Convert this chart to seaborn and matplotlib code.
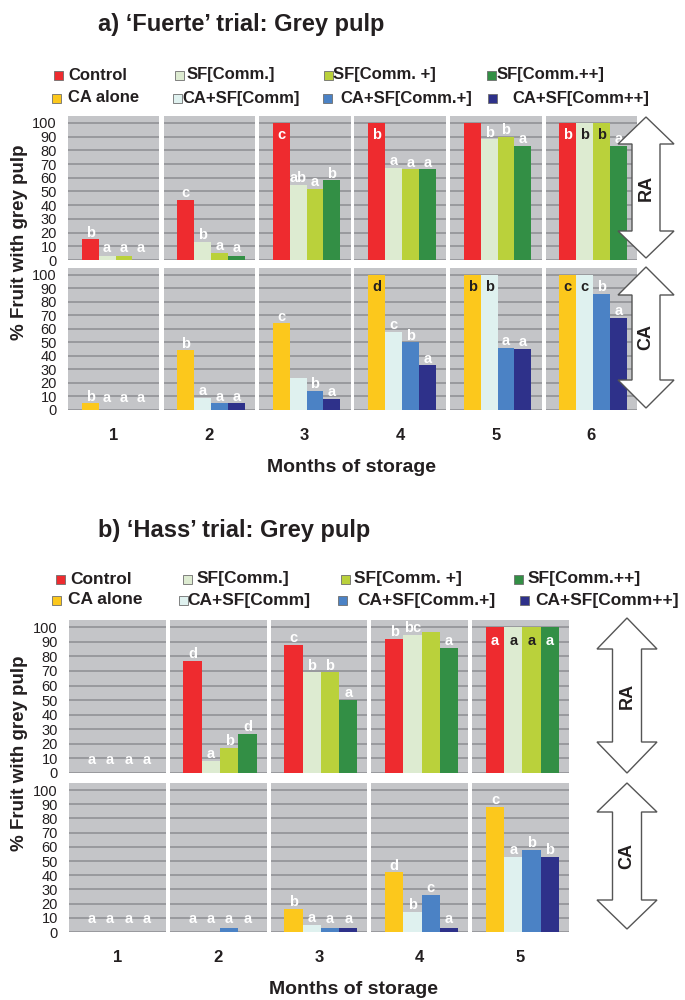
import matplotlib
matplotlib.use("Agg")
import matplotlib.pyplot as plt
from matplotlib.patches import Polygon, Rectangle
from matplotlib.colors import to_rgb
import pandas as pd
import seaborn as sns

sns.set_theme(style="white")
plt.rcParams["font.family"] = ["Liberation Sans", "DejaVu Sans"]

# ---------------------------------------------------------------- data
RA_TREATMENTS = ["Control", "SF[Comm.]", "SF[Comm. +]", "SF[Comm.++]"]
CA_TREATMENTS = ["CA alone", "CA+SF[Comm]", "CA+SF[Comm.+]", "CA+SF[Comm++]"]
RA_COLORS = ["#EE2B2F", "#DDEBD1", "#BAD13B", "#338F45"]
CA_COLORS = ["#FCC81C", "#DFF1EF", "#4B82C5", "#2E318A"]

# 'Fuerte' trial, % fruit with grey pulp per month of storage
fuerte_months = [1, 2, 3, 4, 5, 6]
fuerte_ra_control = [15, 44, 100, 100, 100, 100]
fuerte_ra_sf = [3, 13, 55, 67, 88, 100]
fuerte_ra_sf_plus = [3, 5, 52, 66, 90, 100]
fuerte_ra_sf_plusplus = [0, 3, 58, 66, 83, 83]
fuerte_ra_letters = [["b", "a", "a", "a"], ["c", "b", "a", "a"], ["c", "ab", "a", "b"],
                     ["b", "a", "a", "a"], ["", "b", "b", "a"], ["b", "b", "b", "a"]]

fuerte_ca_alone = [5, 44, 64, 100, 100, 100]
fuerte_ca_sf = [0, 9, 24, 58, 100, 100]
fuerte_ca_sf_plus = [0, 5, 14, 50, 46, 86]
fuerte_ca_sf_plusplus = [0, 5, 8, 33, 45, 68]
fuerte_ca_letters = [["b", "a", "a", "a"], ["b", "a", "a", "a"], ["c", "", "b", "a"],
                     ["d", "c", "b", "a"], ["b", "b", "a", "a"], ["c", "c", "b", "a"]]

# 'Hass' trial
hass_months = [1, 2, 3, 4, 5]
hass_ra_control = [0, 77, 88, 92, 100]
hass_ra_sf = [0, 8, 69, 95, 100]
hass_ra_sf_plus = [0, 17, 69, 97, 100]
hass_ra_sf_plusplus = [0, 27, 50, 86, 100]
hass_ra_letters = [["a", "a", "a", "a"], ["d", "a", "b", "d"], ["c", "b", "b", "a"],
                   ["b", "bc", "", "a"], ["a", "a", "a", "a"]]

hass_ca_alone = [0, 0, 16, 42, 88]
hass_ca_sf = [0, 0, 5, 14, 53]
hass_ca_sf_plus = [0, 3, 3, 26, 58]
hass_ca_sf_plusplus = [0, 0, 3, 3, 53]
hass_ca_letters = [["a", "a", "a", "a"], ["a", "a", "a", "a"], ["b", "a", "a", "a"],
                   ["d", "b", "c", "a"], ["c", "a", "b", "b"]]

Y_TICKS = list(range(0, 101, 10))


def long_table(months, series, treatments):
    rows = []
    for name, vals in zip(treatments, series):
        for m, v in zip(months, vals):
            rows.append({"month": m, "treatment": name, "value": v})
    return pd.DataFrame(rows)


# ---------------------------------------------------------------- layout
W, H = 685, 1000
BG = "#C4C5C8"
GRID = "#95969A"
DARK = "#231F20"

fig = plt.figure(figsize=(W / 100, H / 100), dpi=100)
fig.patch.set_facecolor("white")


def px_axes(x0, y0, x1, y1, **kw):
    return fig.add_axes([x0 / W, 1 - y1 / H, (x1 - x0) / W, (y1 - y0) / H], **kw)


def is_light(color):
    r, g, b = to_rgb(color)
    return 0.299 * r + 0.587 * g + 0.114 * b > 0.6


def draw_panel(df, months, treatments, colors, letters, x0, x1, y0, y1, xlim, gap=4):
    n = len(months)
    fw = (x1 - x0 - gap * (n - 1)) / n
    palette = dict(zip(treatments, colors))
    axes = []
    for k, m in enumerate(months):
        left = x0 + k * (fw + gap)
        ax = px_axes(left, y0, left + fw, y1)
        sub = df[df["month"] == m]
        sns.barplot(data=sub, x="treatment", y="value", hue="treatment",
                    order=treatments, hue_order=treatments, palette=palette,
                    saturation=1, width=1.0, errorbar=None, legend=False,
                    linewidth=0, ax=ax, zorder=2)
        ax.set_facecolor(BG)
        ax.set_ylim(0, 105)
        ax.set_xlim(*xlim)
        ax.set_yticks(Y_TICKS)
        ax.yaxis.grid(True, color=GRID, linewidth=1.3, zorder=0)
        ax.set_axisbelow(True)
        ax.set_xticks([])
        ax.set_xlabel("")
        ax.set_ylabel("")
        for s in ax.spines.values():
            s.set_visible(False)
        ax.tick_params(axis="y", length=0, pad=8, labelsize=10.5, labelcolor=DARK)
        if k > 0:
            ax.tick_params(axis="y", labelleft=False)
        vals = sub.set_index("treatment").loc[treatments, "value"].tolist()
        for i, (v, lab) in enumerate(zip(vals, letters[k])):
            if not lab:
                continue
            if v >= 97:
                y = 88
                col = DARK if is_light(colors[i]) else "white"
            else:
                y = max(v, 4) + 2
                col = "white"
            ax.text(i, y, lab, ha="center", va="baseline", color=col,
                    fontsize=10.5, fontweight="bold", zorder=3)
        axes.append((ax, left, fw))
    return axes


def draw_trial(months, ra_series, ra_letters, ca_series, ca_letters, box):
    df_ra = long_table(months, ra_series, RA_TREATMENTS)
    df_ca = long_table(months, ca_series, CA_TREATMENTS)
    draw_panel(df_ra, months, RA_TREATMENTS, RA_COLORS, ra_letters,
               box["x0"], box["x1"], *box["ra"], box["xlim"])
    cols = draw_panel(df_ca, months, CA_TREATMENTS, CA_COLORS, ca_letters,
                      box["x0"], box["x1"], *box["ca"], box["xlim"])
    return cols


# overlay for titles, legends, arrows and axis captions (pixel coordinates)
over = fig.add_axes([0, 0, 1, 1], zorder=10)
over.set_xlim(0, W)
over.set_ylim(H, 0)
over.axis("off")


def legend(rows, fontsize, sq=9):
    for y, entries in rows:
        for (sx, tx), name, color in entries:
            over.add_patch(Rectangle((sx, y - sq / 2), sq, sq, facecolor=color,
                                     edgecolor="#6E6E6E", linewidth=0.6))
            over.text(tx, y, name, ha="left", va="center", fontsize=fontsize,
                      fontweight="bold", color=DARK)


def double_arrow(cx, top, bottom, head_half, shaft_half, head_len, label):
    pts = [(cx, top), (cx + head_half, top + head_len), (cx + shaft_half, top + head_len),
           (cx + shaft_half, bottom - head_len), (cx + head_half, bottom - head_len),
           (cx, bottom), (cx - head_half, bottom - head_len), (cx - shaft_half, bottom - head_len),
           (cx - shaft_half, top + head_len), (cx - head_half, top + head_len)]
    over.add_patch(Polygon(pts, closed=True, facecolor="white", edgecolor="#555555",
                           linewidth=1.0, joinstyle="miter"))
    over.text(cx, (top + bottom) / 2, label, rotation=90, ha="center", va="center",
              fontsize=13, fontweight="bold", color=DARK)


def captions(title, title_y, month_cols, month_y, xlabel_xy, ylabel_xy):
    over.text(98, title_y, title, ha="left", va="center", fontsize=17,
              fontweight="bold", color=DARK)
    for (ax, left, fw), m in month_cols:
        over.text(left + fw / 2, month_y, str(m), ha="center", va="center",
                  fontsize=12, fontweight="bold", color=DARK)
    over.text(*xlabel_xy, "Months of storage", ha="center", va="center",
              fontsize=14, fontweight="bold", color=DARK)
    over.text(*ylabel_xy, "% Fruit with grey pulp", rotation=90, ha="center",
              va="center", fontsize=13.5, fontweight="bold", color=DARK)


# ---------------------------------------------------------------- a) Fuerte
top_cols = draw_trial(
    fuerte_months,
    [fuerte_ra_control, fuerte_ra_sf, fuerte_ra_sf_plus, fuerte_ra_sf_plusplus],
    fuerte_ra_letters,
    [fuerte_ca_alone, fuerte_ca_sf, fuerte_ca_sf_plus, fuerte_ca_sf_plusplus],
    fuerte_ca_letters,
    {"x0": 68, "x1": 637, "ra": (116, 260), "ca": (268, 410), "xlim": (-1.32, 4.1)},
)
captions("a) \u2018Fuerte\u2019 trial: Grey pulp", 24, zip(top_cols, fuerte_months), 435,
         (352, 467), (20, 242))
legend([(75, list(zip([(54, 68), (175, 187), (324, 333), (487, 497)], RA_TREATMENTS, RA_COLORS))),
        (98, list(zip([(52, 68), (173, 182), (323, 340), (488, 512)], CA_TREATMENTS, CA_COLORS)))],
       fontsize=12)
double_arrow(646, 117, 258, 28, 14, 27, "RA")
double_arrow(646, 267, 408, 28, 14, 28, "CA")

# ---------------------------------------------------------------- b) Hass
bot_cols = draw_trial(
    hass_months,
    [hass_ra_control, hass_ra_sf, hass_ra_sf_plus, hass_ra_sf_plusplus],
    hass_ra_letters,
    [hass_ca_alone, hass_ca_sf, hass_ca_sf_plus, hass_ca_sf_plusplus],
    hass_ca_letters,
    {"x0": 69, "x1": 569, "ra": (620, 773), "ca": (783, 932), "xlim": (-1.25, 4.05)},
)
captions("b) \u2018Hass\u2019 trial: Grey pulp", 530, zip(bot_cols, hass_months), 958,
         (354, 990), (20, 753))
legend([(579, list(zip([(56, 70), (183, 197), (341, 354), (514, 528)], RA_TREATMENTS, RA_COLORS))),
        (600, list(zip([(52, 68), (179, 187), (338, 357), (520, 535)], CA_TREATMENTS, CA_COLORS)))],
       fontsize=12.5)
double_arrow(627, 618, 773, 30, 14.5, 31, "RA")
double_arrow(627, 783, 929, 30, 14.5, 29, "CA")

fig.savefig("out.png", dpi=100, facecolor="white")
